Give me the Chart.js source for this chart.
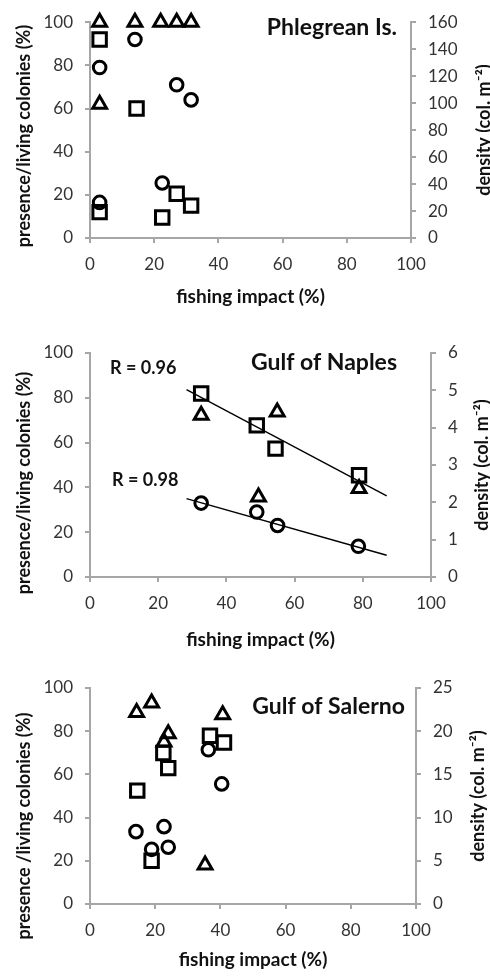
<!DOCTYPE html>
<html>
<head>
<meta charset="utf-8">
<script src="https://cdn.jsdelivr.net/npm/chart.js@4"></script>
<style>
  body { margin: 0; background: #fff; width: 490px; height: 976px; position: relative; overflow: hidden; }
  canvas { position: absolute; left: 0; }
</style>
</head>
<body>
<canvas id="c1" width="490" height="310" style="top:0px"></canvas>
<canvas id="c2" width="490" height="340" style="top:310px"></canvas>
<canvas id="c3" width="490" height="326" style="top:650px"></canvas>
<script>
// ---- data ----
const xTicks = [0, 20, 40, 60, 80, 100];
const leftTicks = [0, 20, 40, 60, 80, 100];

// Phlegrean Is.
const phlegTriX = [3, 14, 22, 27, 31.5, 3];
const phlegTriY = [100, 100, 100, 100, 100, 62];
const phlegSqX = [3, 14.5, 22.5, 27, 31.5, 3];
const phlegSqY = [92, 60, 9.5, 20.5, 15, 12];
const phlegCirX = [3, 3, 14, 22.5, 27, 31.5];
const phlegCirY = [79, 16.5, 92, 25.5, 71, 64];
const phlegRight = [0, 20, 40, 60, 80, 100, 120, 140, 160];

// Gulf of Naples
const naplesSqX = [32.6, 48.9, 54.4, 78.9];
const naplesSqY = [81.9, 67.7, 57.3, 45.4];
const naplesTriX = [32.6, 49.4, 54.9, 78.9];
const naplesTriY = [72.2, 35.7, 73.7, 39.5];
const naplesCirX = [32.6, 48.9, 55, 78.7];
const naplesCirY = [33, 29, 23, 13.7];
const naplesFitUpX = [28.3, 87];
const naplesFitUpY = [83.6, 36.2];
const naplesFitLoX = [28.3, 87];
const naplesFitLoY = [35, 9.7];
const naplesRight = [0, 1, 2, 3, 4, 5, 6];

// Gulf of Salerno
const salTriX = [14.3, 18.9, 24, 22.7, 40.7, 35.3];
const salTriY = [88.7, 93, 78.8, 75, 87.6, 18];
const salSqX = [14.5, 22.5, 24, 36.8, 41.1, 18.9];
const salSqY = [52.5, 69.9, 62.9, 77.9, 74.8, 20];
const salCirX = [14.1, 18.9, 22.7, 24, 36.3, 40.4];
const salCirY = [33.5, 25.3, 35.8, 26.3, 71.4, 55.6];
const salRight = [0, 5, 10, 15, 20, 25];

const pts = (xs, ys) => xs.map((x, i) => ({ x: x, y: ys[i] }));

const FONT = "Lato, 'Open Sans', sans-serif";
const AXIS = "#a6a6a6";
const TICK = "#333";

function marker(style, radius, data) {
    return {
        type: "scatter",
        data: data,
        pointStyle: style,
        radius: radius,
        borderColor: "#000",
        backgroundColor: "rgba(0,0,0,0)",
        borderWidth: 3,
        clip: false,
        yAxisID: "y"
    };
}

function fitLine(data) {
    return {
        type: "line",
        data: data,
        borderColor: "#000",
        borderWidth: 1.4,
        pointRadius: 0,
        fill: false,
        yAxisID: "y"
    };
}

// titles drawn on top of the chart
const labelsPlugin = {
    id: "labels",
    afterDraw(chart) {
        const p = chart.options.plugins.labels;
        const ctx = chart.ctx;
        const a = chart.chartArea;
        ctx.save();
        ctx.fillStyle = "#111";
        ctx.textBaseline = "middle";
        // panel title
        ctx.font = "bold 23px " + FONT;
        ctx.textAlign = "right";
        ctx.fillText(p.title, p.titleX, p.titleY);
        // extra notes
        ctx.font = "bold 18px " + FONT;
        ctx.textAlign = "left";
        (p.notes || []).forEach(n => ctx.fillText(n.text, n.x, n.y));
        // x title
        ctx.font = "bold 19px " + FONT;
        ctx.textAlign = "center";
        ctx.fillText("fishing impact (%)", (a.left + a.right) / 2, p.xTitleY);
        // left title
        ctx.font = "bold 18px " + FONT;
        ctx.save();
        ctx.translate(24, p.leftTitleY);
        ctx.rotate(-Math.PI / 2);
        ctx.fillText(p.leftTitle, 0, 0);
        ctx.restore();
        // right title
        ctx.save();
        ctx.translate(p.rightTitleX, (a.top + a.bottom) / 2);
        ctx.rotate(-Math.PI / 2);
        ctx.fillText("density (col. m\u207B\u00B2)", 0, 0);
        ctx.restore();
        ctx.restore();
    }
};

function makeChart(id, cfg) {
    const canvas = document.getElementById(id);
    const H = canvas.height;
    return new Chart(canvas.getContext("2d"), {
        data: { datasets: cfg.datasets },
        options: {
            responsive: false,
            animation: false,
            events: [],
            layout: { padding: { top: cfg.plotTop, left: 0, right: 0, bottom: 0 } },
            plugins: {
                legend: { display: false },
                tooltip: { enabled: false },
                labels: cfg.labels
            },
            scales: {
                x: {
                    type: "linear",
                    min: 0, max: 100,
                    afterBuildTicks: s => { s.ticks = xTicks.map(v => ({ value: v })); },
                    afterFit: s => { s.height = H - cfg.plotBottom; },
                    grid: { display: true, drawOnChartArea: false, tickLength: 5, color: AXIS, tickColor: AXIS, lineWidth: 2 },
                    border: { color: AXIS, width: 2 },
                    ticks: { color: TICK, font: { family: FONT, size: 17 }, padding: 11, maxRotation: 0 }
                },
                y: {
                    type: "linear",
                    position: "left",
                    min: 0, max: 100,
                    afterBuildTicks: s => { s.ticks = leftTicks.map(v => ({ value: v })); },
                    afterFit: s => { s.width = 90; },
                    grid: { display: true, drawOnChartArea: false, tickLength: 5, color: AXIS, tickColor: AXIS, lineWidth: 2 },
                    border: { color: AXIS, width: 2 },
                    ticks: { color: TICK, font: { family: FONT, size: 17 }, padding: 12 }
                },
                y2: {
                    type: "linear",
                    position: "right",
                    min: 0, max: cfg.right[cfg.right.length - 1],
                    afterBuildTicks: s => { s.ticks = cfg.right.map(v => ({ value: v })); },
                    afterFit: s => { s.width = 490 - cfg.axisRight; },
                    grid: { display: true, drawOnChartArea: false, tickLength: 5, color: AXIS, tickColor: AXIS, lineWidth: 2 },
                    border: { color: AXIS, width: 2 },
                    ticks: { color: TICK, font: { family: FONT, size: 17 }, padding: 12 }
                }
            }
        },
        plugins: [labelsPlugin]
    });
}

makeChart("c1", {
    plotTop: 16, plotBottom: 238, axisRight: 411, right: phlegRight,
    datasets: [
        marker("triangle", 8, pts(phlegTriX, phlegTriY)),
        marker("rect", 9.5, pts(phlegSqX, phlegSqY)),
        marker("circle", 6.3, pts(phlegCirX, phlegCirY))
    ],
    labels: {
        title: "Phlegrean Is.", titleX: 397, titleY: 28,
        xTitleY: 297, leftTitle: "presence/living colonies (%)", leftTitleY: 136, rightTitleX: 484
    }
});

makeChart("c2", {
    plotTop: 43, plotBottom: 267, axisRight: 431, right: naplesRight,
    datasets: [
        fitLine(pts(naplesFitUpX, naplesFitUpY)),
        fitLine(pts(naplesFitLoX, naplesFitLoY)),
        marker("rect", 9.5, pts(naplesSqX, naplesSqY)),
        marker("triangle", 8, pts(naplesTriX, naplesTriY)),
        marker("circle", 6.3, pts(naplesCirX, naplesCirY))
    ],
    labels: {
        title: "Gulf of Naples", titleX: 397, titleY: 53,
        notes: [{ text: "R = 0.96", x: 110, y: 58 }, { text: "R = 0.98", x: 112, y: 170 }],
        xTitleY: 330, leftTitle: "presence/living colonies (%)", leftTitleY: 173, rightTitleX: 482
    }
});

makeChart("c3", {
    plotTop: 38, plotBottom: 254, axisRight: 416, right: salRight,
    datasets: [
        marker("triangle", 8, pts(salTriX, salTriY)),
        marker("rect", 9.5, pts(salSqX, salSqY)),
        marker("circle", 6.3, pts(salCirX, salCirY))
    ],
    labels: {
        title: "Gulf of Salerno", titleX: 405, titleY: 57,
        xTitleY: 310, leftTitle: "presence /living colonies (%)", leftTitleY: 176, rightTitleX: 478
    }
});
</script>
</body>
</html>
